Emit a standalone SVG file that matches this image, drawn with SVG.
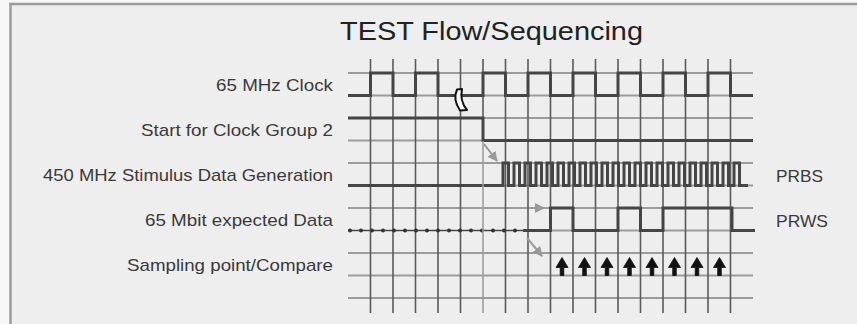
<svg xmlns="http://www.w3.org/2000/svg" width="857" height="324" viewBox="0 0 857 324">
  <style>
    .lbl { font-family: "Liberation Sans", Arial, Helvetica, sans-serif; font-size: 17px; fill: #3a3a3a; }
    .title { font-family: "Liberation Sans", Arial, Helvetica, sans-serif; font-size: 26px; fill: #222; }
    .hg { stroke: #9c9c9c; stroke-width: 2; fill: none; }
    .vg { stroke: #5a5a5a; stroke-width: 1.6; fill: none; }
    .sig { stroke: #454545; stroke-width: 3; fill: none; stroke-linejoin: miter; stroke-linecap: butt; }
    .garrow { stroke: #9a9a9a; stroke-width: 2; fill: none; marker-end: url(#gh); }
  </style>
  <defs>
    <marker id="gh" viewBox="0 0 10 10" refX="9" refY="5" markerWidth="5" markerHeight="5" orient="auto" markerUnits="strokeWidth">
      <path d="M0,0 L10,5 L0,10 Z" fill="#9a9a9a"/>
    </marker>
    <path id="up" d="M0,0 L6,10 L1.8,10 L1.8,18 L-1.8,18 L-1.8,10 L-6,10 Z" fill="#111" stroke="#111" stroke-width="0.8" stroke-linejoin="round"/>
  </defs>

  <rect x="0" y="0" width="857" height="324" fill="#f7f7f7"/>
  <g id="frame">
    <rect x="10.5" y="4" width="870" height="340" fill="#eeeeee" stroke="#9a9a9a" stroke-width="2.5"/>
  </g>

  <g id="title">
    <text class="title" x="340" y="39.5" textLength="303" lengthAdjust="spacingAndGlyphs">TEST Flow/Sequencing</text>
  </g>

  <g id="grid">
    <path class="hg" d="M348,73 H753 M348,95.5 H753 M348,118 H753 M348,140.5 H753 M348,163 H753 M348,185.5 H753 M348,208 H753 M348,230.5 H753 M348,253 H753 M348,275.5 H753 M348,298 H753"/>
    <path class="vg" d="M370.5,59 V313 M393,59 V313 M415.5,59 V313 M438,59 V313 M460.5,59 V313 M483,59 V118 M505.5,59 V313 M528,59 V313 M550.5,59 V313 M573,59 V313 M595.5,59 V313 M618,59 V313 M640.5,59 V313 M663,59 V313 M685.5,59 V313 M708,59 V313 M730.5,59 V313"/>
  </g>

  <g id="labels">
    <text class="lbl" x="333" y="91" text-anchor="end" textLength="117" lengthAdjust="spacingAndGlyphs">65 MHz Clock</text>
    <text class="lbl" x="333" y="136" text-anchor="end" textLength="192" lengthAdjust="spacingAndGlyphs">Start for Clock Group 2</text>
    <text class="lbl" x="333" y="181" text-anchor="end" textLength="290" lengthAdjust="spacingAndGlyphs">450 MHz Stimulus Data Generation</text>
    <text class="lbl" x="333" y="226" text-anchor="end" textLength="188" lengthAdjust="spacingAndGlyphs">65 Mbit expected Data</text>
    <text class="lbl" x="333" y="271" text-anchor="end" textLength="206" lengthAdjust="spacingAndGlyphs">Sampling point/Compare</text>
    <text class="lbl" x="776" y="182" textLength="47" lengthAdjust="spacingAndGlyphs">PRBS</text>
    <text class="lbl" x="776" y="227" textLength="52" lengthAdjust="spacingAndGlyphs">PRWS</text>
  </g>

  <g id="signals">
    <path id="clock" class="sig" d="M348,95.5 H370.5 V73 H393 V95.5 H415.5 V73 H438 V95.5 H483 V73 H505.5 V95.5 H528 V73 H550.5 V95.5 H573 V73 H595.5 V95.5 H618 V73 H640.5 V95.5 H663 V73 H685.5 V95.5 H708 V73 H730.5 V95.5 H753"/>
    <path id="start" class="sig" d="M348,118 H483 V140.5 H753"/>
    <path id="stim" class="sig" d="M348,185.5 H503 V163 H508.5 V185.5 H514 V163 H519.5 V185.5 H525 V163 H530.5 V185.5 H536 V163 H541.5 V185.5 H547 V163 H552.5 V185.5 H558 V163 H563.5 V185.5 H569 V163 H574.5 V185.5 H580 V163 H585.5 V185.5 H591 V163 H596.5 V185.5 H602 V163 H607.5 V185.5 H613 V163 H618.5 V185.5 H624 V163 H629.5 V185.5 H635 V163 H640.5 V185.5 H646 V163 H651.5 V185.5 H657 V163 H662.5 V185.5 H668 V163 H673.5 V185.5 H679 V163 H684.5 V185.5 H690 V163 H695.5 V185.5 H701 V163 H706.5 V185.5 H712 V163 H717.5 V185.5 H723 V163 H728.5 V185.5 H734 V163 H739.5 V185.5 H748"/>
    <g id="expected-dotted" fill="#333">
      <path d="M348,230.5 H523" stroke="#444" stroke-width="1.2"/>
      <circle cx="350" cy="230.5" r="2"/><circle cx="361" cy="230.5" r="2"/><circle cx="372" cy="230.5" r="2"/><circle cx="383" cy="230.5" r="2"/>
      <circle cx="394" cy="230.5" r="2"/><circle cx="405" cy="230.5" r="2"/><circle cx="416" cy="230.5" r="2"/><circle cx="427" cy="230.5" r="2"/>
      <circle cx="438" cy="230.5" r="2"/><circle cx="449" cy="230.5" r="2"/><circle cx="460" cy="230.5" r="2"/><circle cx="471" cy="230.5" r="2"/>
      <circle cx="482" cy="230.5" r="2"/><circle cx="493" cy="230.5" r="2"/><circle cx="504" cy="230.5" r="2"/><circle cx="515" cy="230.5" r="2"/>
    </g>
    <path id="expected" class="sig" d="M523,230.5 H550.5 V208 H573 V230.5 H618 V208 H640.5 V230.5 H663 V208 H732 V230.5 H755"/>
  </g>

  <g id="overlay">
    <path d="M483,141 V313" stroke="#9e9e9e" stroke-width="1.6"/>
    <path id="break" d="M457,89.5 C454.5,95 455,103 460,110.5 L467,110 C462,104 460.5,96 462,89 Z" fill="#ffffff" stroke="#111" stroke-width="2" stroke-linejoin="round"/>
  </g>

  <g id="connectors">
    <path class="garrow" d="M484,144 L497,161"/>
    <path class="garrow" d="M530,208 L544,208"/>
    <path class="garrow" d="M527,238 L542,256"/>
  </g>

  <g id="sampling">
    <use href="#up" x="562" y="257.5"/>
    <use href="#up" x="584.5" y="257.5"/>
    <use href="#up" x="607" y="257.5"/>
    <use href="#up" x="629.5" y="257.5"/>
    <use href="#up" x="652" y="257.5"/>
    <use href="#up" x="674.5" y="257.5"/>
    <use href="#up" x="697" y="257.5"/>
    <use href="#up" x="719.5" y="257.5"/>
  </g>
</svg>
